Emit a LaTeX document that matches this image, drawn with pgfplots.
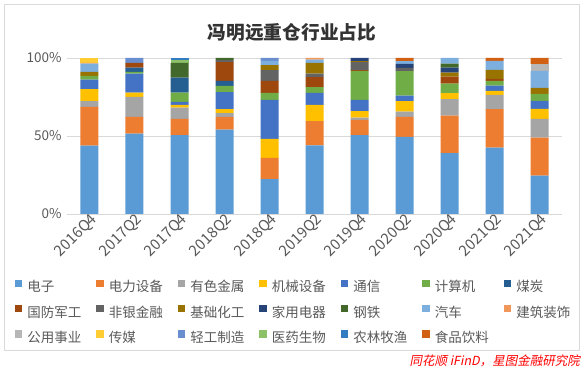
\documentclass[border=0pt]{standalone}
\usepackage{pgfplots}
\pgfplotsset{compat=1.18}
\usepackage{pgfplotstable}
\usepackage{fontspec}
\setmainfont{Noto Sans CJK SC}
\newfontfamily\srcfont[FakeSlant=0.2]{Noto Sans CJK SC}
\definecolor{c1}{HTML}{5B9BD5}
\definecolor{c2}{HTML}{ED7D31}
\definecolor{c3}{HTML}{A5A5A5}
\definecolor{c4}{HTML}{FFC000}
\definecolor{c5}{HTML}{4472C4}
\definecolor{c6}{HTML}{70AD47}
\definecolor{c7}{HTML}{255E91}
\definecolor{c8}{HTML}{9E480E}
\definecolor{c9}{HTML}{636363}
\definecolor{c10}{HTML}{997300}
\definecolor{c11}{HTML}{264478}
\definecolor{c12}{HTML}{43682B}
\definecolor{c13}{HTML}{7CAFDD}
\definecolor{c14}{HTML}{F1975A}
\definecolor{c15}{HTML}{B7B7B7}
\definecolor{c16}{HTML}{FFCD33}
\definecolor{c17}{HTML}{698ED0}
\definecolor{c18}{HTML}{8CC168}
\definecolor{c19}{HTML}{327DC2}
\definecolor{c20}{HTML}{D26012}
\definecolor{gridc}{HTML}{D9D9D9}
\definecolor{txt}{HTML}{595959}
\pgfplotstableread{
x s1 s2 s3 s4 s5 s6 s7 s8 s9 s10 s11 s12 s13 s14 s15 s16 s17 s18 s19 s20
0 43.8 24.8 3.8 7.7 6.0 2.4 0 0 0 2.6 0 0 5.3 0.4 0 3.2 0 0 0 0
1 51.5 10.7 12.8 2.8 12.2 1.1 2.8 3.0 0 0 0 0 0 0 0 0 3.1 0 0 0
2 50.6 10.3 7.3 1.7 1.9 6.0 9.6 0 0 0 0 9.4 0 0 0 0 0 1.9 1.3 0
3 54.1 8.1 2.5 2.6 10.9 3.9 3.2 12.1 1.3 0 0 1.3 0 0 0 0 0 0 0 0
4 22.4 13.5 0 12.2 25.0 4.5 0 7.7 7.0 3.2 0 0 2.6 0 0 0 1.9 0 0 0
5 44.0 15.6 0 10.3 7.7 3.8 0 6.4 2.2 6.8 0 0 2.1 1.1 0 0 0 0 0 0
6 50.6 9.8 1.3 4.3 7.1 18.6 0 0.6 5.1 0.6 2.0 0 0 0 0 0 0 0 0 0
7 49.4 12.8 3.4 6.8 3.4 15.8 0 0 2.1 0 2.6 0 1.7 0 0 0 0 0 0 2.0
8 39.1 23.9 10.7 3.8 0 6.0 0 4.5 0 2.6 3.2 2.6 3.6 0 0 0 0 0 0 0
9 42.5 24.8 9.0 2.6 3.4 3.0 0 1.3 0 5.8 0 0 5.8 0 0 0 0 0 0 1.9
10 24.6 24.4 12.0 6.4 5.1 4.5 0 0 0 3.8 0 0 10.9 0 4.5 0 0 0 0 3.8
}\data
\newcommand{\LE}[1]{\makebox[69pt][l]{#1}}
\begin{document}
\begin{tikzpicture}[x=1pt,y=1pt]
\path[use as bounding box] (0,0) rectangle (584,372);
\draw[draw=gridc, line width=0.75pt] (4,22) rectangle (579,368);
\node[font=\fontsize{18.7}{22}\selectfont\bfseries, text=black!80] at (292,340) {冯明远重仓行业占比};
\node[anchor=east, text=red, font=\srcfont\fontsize{12.5}{14}\selectfont, inner sep=0pt] at (580,11) {同花顺 iFinD，星图金融研究院};
\begin{axis}[
 at={(67pt,158pt)}, anchor=south west,
 scale only axis, width=495pt, height=156pt,
 xmin=-0.5, xmax=10.5, ymin=0, ymax=100,
 ybar stacked, bar width=18pt,
 xtick={0,...,10},
 xticklabels={2016Q4,2017Q2,2017Q4,2018Q2,2018Q4,2019Q2,2019Q4,2020Q2,2020Q4,2021Q2,2021Q4},
 ytick={0,50,100}, yticklabel={\pgfmathprintnumber{\tick}\%},
 ymajorgrids, grid style={draw=gridc, line width=0.75pt},
 axis line style={draw=none}, major tick length=0pt,
 /pgf/number format/assume math mode=true,
 tick label style={font=\fontsize{13.5}{15}\selectfont, text=txt},
 yticklabel style={xshift=-2pt},
 xticklabel style={font=\fontsize{15}{16}\selectfont, rotate=45, anchor=east, xshift=5pt, yshift=-6pt},
 legend columns=7,
 legend image code/.code={\fill[#1] (0pt,1.2pt) rectangle (7.5pt,8.7pt);},
 legend style={draw=none, fill=none, inner sep=0pt, outer sep=0pt,
   at={(axis description cs:-0.1051,-0.4200)}, anchor=north west,
   nodes={inner sep=0pt, text height=10.5pt, text depth=3pt, font=\fontsize{13.5}{15}\selectfont, text=txt},
   row sep=10pt,
   /tikz/every odd column/.append style={column sep=5pt}},
]
\addplot[fill=c1, draw=none] table[x=x,y=s1]{\data}; \addlegendentry{\LE{电子}}
\addplot[fill=c2, draw=none] table[x=x,y=s2]{\data}; \addlegendentry{\LE{电力设备}}
\addplot[fill=c3, draw=none] table[x=x,y=s3]{\data}; \addlegendentry{\LE{有色金属}}
\addplot[fill=c4, draw=none] table[x=x,y=s4]{\data}; \addlegendentry{\LE{机械设备}}
\addplot[fill=c5, draw=none] table[x=x,y=s5]{\data}; \addlegendentry{\LE{通信}}
\addplot[fill=c6, draw=none] table[x=x,y=s6]{\data}; \addlegendentry{\LE{计算机}}
\addplot[fill=c7, draw=none] table[x=x,y=s7]{\data}; \addlegendentry{\LE{煤炭}}
\addplot[fill=c8, draw=none] table[x=x,y=s8]{\data}; \addlegendentry{\LE{国防军工}}
\addplot[fill=c9, draw=none] table[x=x,y=s9]{\data}; \addlegendentry{\LE{非银金融}}
\addplot[fill=c10, draw=none] table[x=x,y=s10]{\data}; \addlegendentry{\LE{基础化工}}
\addplot[fill=c11, draw=none] table[x=x,y=s11]{\data}; \addlegendentry{\LE{家用电器}}
\addplot[fill=c12, draw=none] table[x=x,y=s12]{\data}; \addlegendentry{\LE{钢铁}}
\addplot[fill=c13, draw=none] table[x=x,y=s13]{\data}; \addlegendentry{\LE{汽车}}
\addplot[fill=c14, draw=none] table[x=x,y=s14]{\data}; \addlegendentry{\LE{建筑装饰}}
\addplot[fill=c15, draw=none] table[x=x,y=s15]{\data}; \addlegendentry{\LE{公用事业}}
\addplot[fill=c16, draw=none] table[x=x,y=s16]{\data}; \addlegendentry{\LE{传媒}}
\addplot[fill=c17, draw=none] table[x=x,y=s17]{\data}; \addlegendentry{\LE{轻工制造}}
\addplot[fill=c18, draw=none] table[x=x,y=s18]{\data}; \addlegendentry{\LE{医药生物}}
\addplot[fill=c19, draw=none] table[x=x,y=s19]{\data}; \addlegendentry{\LE{农林牧渔}}
\addplot[fill=c20, draw=none] table[x=x,y=s20]{\data}; \addlegendentry{\LE{食品饮料}}
\end{axis}
\end{tikzpicture}
\end{document}
